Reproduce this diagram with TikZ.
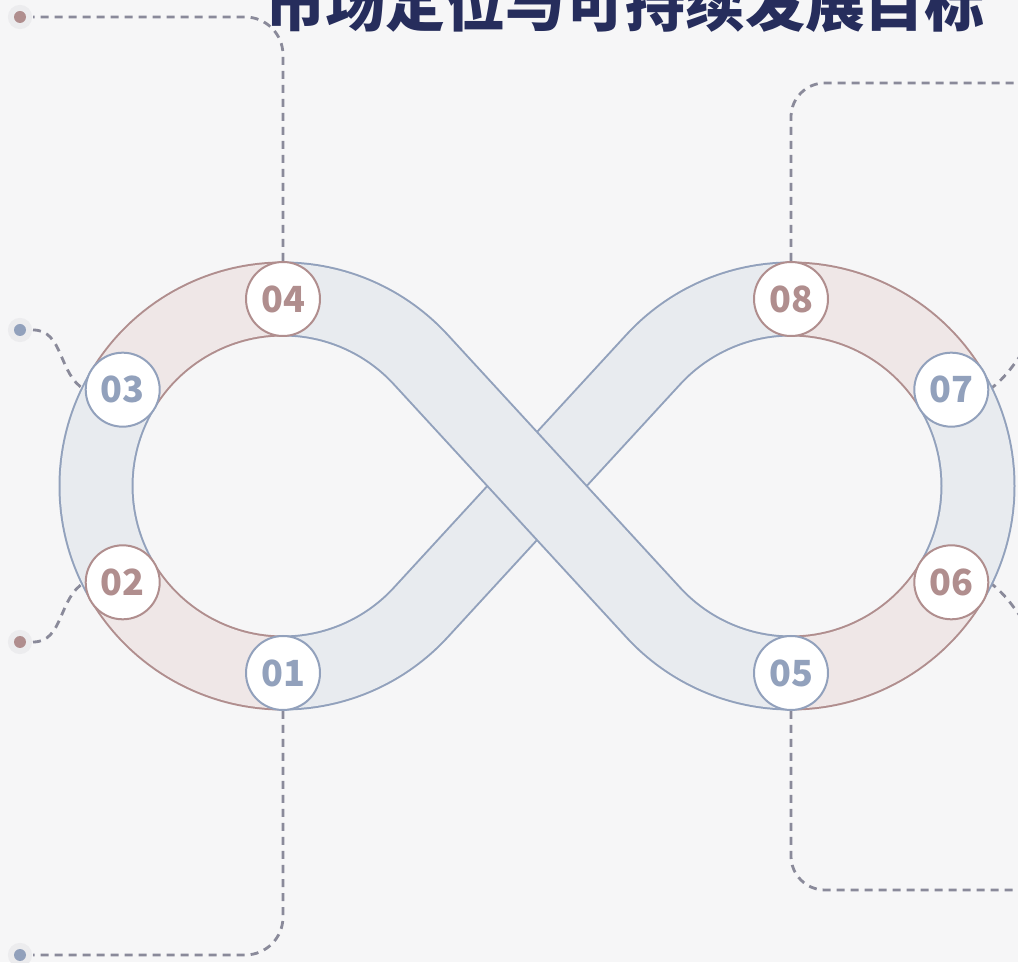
\documentclass[tikz,border=0pt]{standalone}
\usepackage{fontspec}
\newfontfamily\cjk{Noto Sans CJK SC}
\usetikzlibrary{calc,backgrounds}
\definecolor{rosec}{HTML}{B08E8E}
\definecolor{rosef}{HTML}{EFE7E7}
\definecolor{bluec}{HTML}{92A1BC}
\definecolor{bluef}{HTML}{E8EBEF}
\definecolor{dashc}{HTML}{8A8A9A}
\definecolor{haloc}{HTML}{ECECEE}
\definecolor{titlec}{HTML}{262D5C}
\definecolor{bgc}{HTML}{F6F6F7}
\tikzset{
  band/.style 2 args={draw=#1, line width=2pt, double=#2, double distance=71pt},
  num/.style={circle, draw=#1, line width=2pt, fill=white, minimum size=74pt, inner sep=0pt,
    text=#1, font=\cjk\bfseries\fontsize{36}{36}\selectfont},
  leader/.style={dashc, line width=2.8pt, dash pattern=on 8pt off 6pt},
  dot/.style={circle, fill=#1, minimum size=12pt, inner sep=0pt, outer sep=7pt,
    preaction={draw=haloc, line width=12pt}},
}
\begin{document}
\begin{tikzpicture}[x=1pt,y=1pt]
\useasboundingbox (0,0) rectangle (1018,962);
\coordinate (L) at (283,476);
\coordinate (R) at (791,476);
\foreach \n/\c/\a in {04/L/90, 03/L/149, 02/L/211, 01/L/270, 08/R/90, 07/R/31, 06/R/-31, 05/R/-90}
  \coordinate (p\n) at ($(\c)+(\a:187)$);
% left loop
\draw[band={rosec}{rosef}] (p04) arc[start angle=90, end angle=149, radius=187];
\draw[band={bluec}{bluef}] (p03) arc[start angle=149, end angle=211, radius=187];
\draw[band={rosec}{rosef}] (p02) arc[start angle=211, end angle=270, radius=187];
% right loop
\draw[band={rosec}{rosef}] (p08) arc[start angle=90, end angle=31, radius=187];
\draw[band={bluec}{bluef}] (p07) arc[start angle=31, end angle=-31, radius=187];
\draw[band={rosec}{rosef}] (p06) arc[start angle=-31, end angle=-90, radius=187];
% strips, the falling one on top
\draw[band={bluec}{bluef}] (p01) arc[start angle=270, end angle=317.4, radius=187]
  -- ($(R)+(137.4:187)$) arc[start angle=137.4, end angle=90, radius=187];
\draw[band={bluec}{bluef}] (p05) arc[start angle=-90, end angle=-137.4, radius=187]
  -- ($(L)+(42.6:187)$) arc[start angle=42.6, end angle=90, radius=187];
\foreach \n/\c in {04/rosec, 03/bluec, 02/rosec, 01/bluec, 08/rosec, 07/bluec, 06/rosec, 05/bluec}
  \node[num=\c] (n\n) at (p\n) {\n};
\node[anchor=base, text=titlec, font=\cjk\bfseries\fontsize{60}{60}\selectfont] (title) at (625,935) {市场定位与可持续发展目标};
\begin{scope}[on background layer]
\fill[bgc] (0,0) rectangle (1018,962);
\node[dot=rosec] (t04) at (20,945) {};
\node[dot=bluec] (t03) at (20,632) {};
\node[dot=rosec] (t02) at (20,320) {};
\node[dot=bluec] (t01) at (20,7) {};
\coordinate (t08) at (1030,879);
\coordinate (t07) at (1070,640);
\coordinate (t06) at (1070,312);
\coordinate (t05) at (1030,72);
\draw[leader, rounded corners=38pt] (n04.north) |- (t04);
\draw[leader, rounded corners=38pt] (n01.south) |- (t01);
\draw[leader, rounded corners=34pt] (n08.north) |- (t08);
\draw[leader, rounded corners=34pt] (n05.south) |- (t05);
\draw[leader] (t03) to[out=0, in=150] (n03.west);
\draw[leader] (t02) to[out=0, in=-150] (n02.west);
\draw[leader] (n07.east) to[out=35, in=180] (t07);
\draw[leader] (n06.east) to[out=-35, in=180] (t06);
\end{scope}
\end{tikzpicture}
\end{document}
